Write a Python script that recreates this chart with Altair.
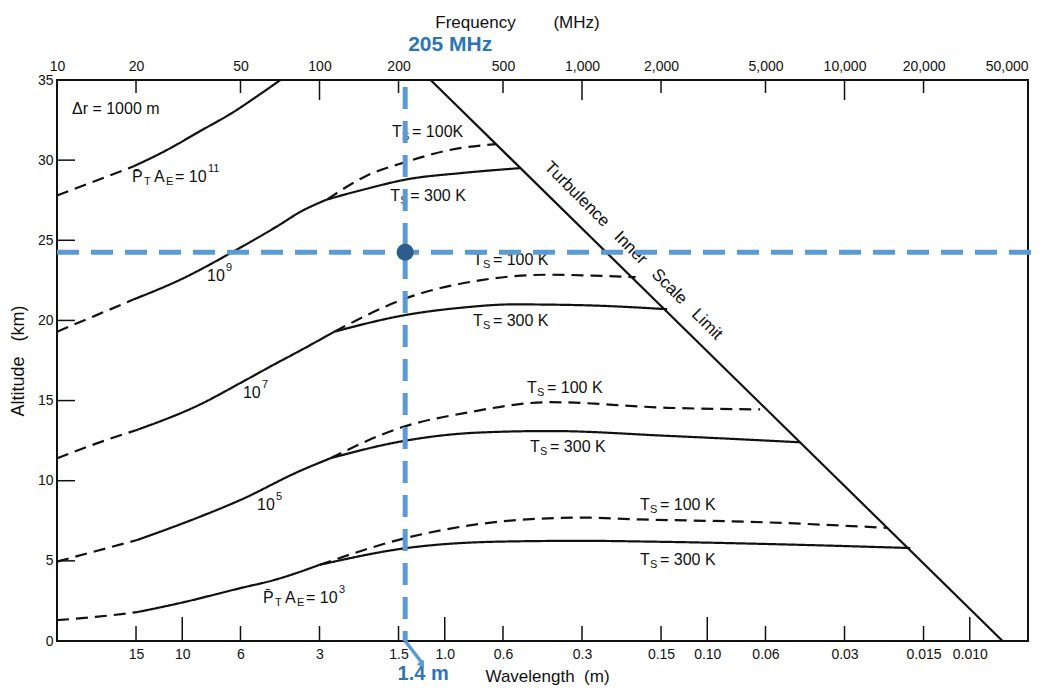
import altair as alt
import pandas as pd

FONT = "Liberation Sans"
BLUE = "#5b9bd5"
TEXT_BLUE = "#2e75b6"
DOT = "#2e5d8c"
INK = "#111111"
W, H = 971, 561

# ---------------- axes ----------------
freq_ticks = [10, 20, 50, 100, 200, 500, 1000, 2000, 5000, 10000, 20000, 50000]
wave_freqs = [20, 30, 50, 100, 200, 300, 500, 1000, 2000, 3000, 5000, 10000, 20000, 30000]
wave_labels = ["15", "10", "6", "3", "1.5", "1.0", "0.6", "0.3", "0.15", "0.10",
               "0.06", "0.03", "0.015", "0.010"]
alt_ticks = [0, 5, 10, 15, 20, 25, 30, 35]
top_long = [100, 1000, 10000]
top_short = [20, 50, 200, 500, 2000, 5000, 20000]
bot_long = [30, 300, 3000, 30000]
bot_short = [20, 50, 100, 200, 500, 1000, 2000, 5000, 10000, 20000]
left_ticks = [5, 10, 15, 20, 25, 30]

# ---------------- curves (frequency MHz, altitude km) ----------------
p11_dash_f = [10, 14, 19.5]
p11_dash_a = [27.8, 28.7, 29.6]
p11_f = [19.5, 26, 35, 47, 58, 71]
p11_a = [29.6, 30.6, 31.8, 33.0, 34.0, 35.0]

p9_dash_f = [10, 14, 19.5]
p9_dash_a = [19.3, 20.3, 21.3]
p9_f = [19.5, 30, 47, 71, 84, 107]
p9_a = [21.3, 22.6, 24.3, 26.0, 26.75, 27.55]
p9_300_f = [107, 150, 215, 350, 580]
p9_300_a = [27.55, 28.2, 28.8, 29.2, 29.5]
p9_100_f = [107, 150, 215, 306, 470]
p9_100_a = [27.55, 29.0, 29.9, 30.6, 31.0]

p7_dash_f = [10, 14, 20.4]
p7_dash_a = [11.4, 12.3, 13.2]
p7_f = [20.4, 35, 50, 68, 84, 114]
p7_a = [13.2, 14.75, 16.1, 17.3, 18.1, 19.3]
p7_300_f = [114, 215, 350, 545, 1000, 2110]
p7_300_a = [19.3, 20.35, 20.8, 21.0, 20.95, 20.7]
p7_100_f = [114, 215, 408, 736, 1100, 1600]
p7_100_a = [19.3, 21.4, 22.5, 22.85, 22.8, 22.7]

p5_dash_f = [10, 14, 20.2]
p5_dash_a = [4.95, 5.6, 6.3]
p5_f = [20.2, 35, 50, 84, 110]
p5_a = [6.3, 7.75, 8.8, 10.6, 11.4]
p5_300_f = [110, 203, 400, 755, 2110, 6760]
p5_300_a = [11.4, 12.44, 13.0, 13.1, 12.8, 12.4]
p5_100_f = [110, 203, 365, 755, 2110, 4770]
p5_100_a = [11.4, 13.3, 14.25, 14.9, 14.55, 14.45]

p3_dash_f = [10, 14, 20.2]
p3_dash_a = [1.3, 1.5, 1.8]
p3_f = [20.2, 30, 50, 67, 100]
p3_a = [1.8, 2.4, 3.3, 3.8, 4.75]
p3_300_f = [100, 215, 487, 1000, 1816, 6760, 17800]
p3_300_a = [4.75, 5.8, 6.2, 6.25, 6.2, 6.0, 5.8]
p3_100_f = [100, 215, 581, 1000, 1563, 5070, 14500]
p3_100_a = [4.75, 6.44, 7.56, 7.7, 7.6, 7.4, 7.06]

limit_f = [265, 40000]
limit_a = [35, 0]

# ---------------- labels ----------------
ts_f = [189, 186, 384, 384, 617, 634, 1663, 1663]
ts_a = [31.75, 27.75, 23.8, 19.94, 15.8, 12.1, 8.5, 5.06]
ts_rest = ["= 100K", "= 300 K", "= 100 K", "= 300 K", "= 100 K", "= 300 K", "= 100 K", "= 300 K"]

pa_f = [19.3, 60.9]
pa_a = [28.94, 2.69]
pa_exp = ["11", "3"]

ex_f = [37.3, 51.1, 57.8]
ex_a = [22.8, 15.5, 8.5]
ex_exp = ["9", "7", "5"]

mark_f = 212       # 205 MHz marker
mark_f2 = 246
mark_alt = 24.25

# ---------------- build tables ----------------
segments = [
    ("p11d", "dash", p11_dash_f, p11_dash_a), ("p11", "solid", p11_f, p11_a),
    ("p9d", "dash", p9_dash_f, p9_dash_a), ("p9", "solid", p9_f, p9_a),
    ("p9s", "solid", p9_300_f, p9_300_a), ("p9k", "dash", p9_100_f, p9_100_a),
    ("p7d", "dash", p7_dash_f, p7_dash_a), ("p7", "solid", p7_f, p7_a),
    ("p7s", "solid", p7_300_f, p7_300_a), ("p7k", "dash", p7_100_f, p7_100_a),
    ("p5d", "dash", p5_dash_f, p5_dash_a), ("p5", "solid", p5_f, p5_a),
    ("p5s", "solid", p5_300_f, p5_300_a), ("p5k", "dash", p5_100_f, p5_100_a),
    ("p3d", "dash", p3_dash_f, p3_dash_a), ("p3", "solid", p3_f, p3_a),
    ("p3s", "solid", p3_300_f, p3_300_a), ("p3k", "dash", p3_100_f, p3_100_a),
]
rows = []
for name, style, fs, as_ in segments:
    for i, (f, a) in enumerate(zip(fs, as_)):
        rows.append({"seg": name, "style": style, "f": f, "alt": a, "i": i})
curves = pd.DataFrame(rows)
limit = pd.DataFrame({"f": limit_f, "alt": limit_a})
ts_df = pd.DataFrame({"f": ts_f, "alt": ts_a, "rest": ts_rest})
pa_df = pd.DataFrame({"f": pa_f, "alt": pa_a, "exp": pa_exp})
ex_df = pd.DataFrame({"f": ex_f, "alt": ex_a, "exp": ex_exp})

x_scale = alt.Scale(type="log", domain=[10, 50000], nice=False)
y_scale = alt.Scale(domain=[0, 35], nice=False, zero=False)

y_axis = alt.Axis(values=alt_ticks, title="Altitude\u00a0\u00a0\u00a0(km)", ticks=False, domain=False,
                  grid=False, labelFontSize=14, labelPadding=4, titleFontSize=18,
                  titleFontWeight="normal", titlePadding=10, labelFont=FONT, titleFont=FONT,
                  labelColor=INK, titleColor=INK)
XN = alt.X("f:Q", scale=x_scale, axis=None)
Y = alt.Y("alt:Q", scale=y_scale, axis=y_axis)

top_axis = alt.Axis(orient="top", values=freq_ticks, format=",d", ticks=False, domain=False,
                    grid=False, labelFontSize=14, labelPadding=7, labelFlush=False,
                    labelOverlap=False, labelFont=FONT, titleFont=FONT, labelColor=INK,
                    titleColor=INK,
                    labelAlign={"condition": {"test": "datum.value >= 50000", "value": "right"},
                                "value": "center"},
                    title="Frequency" + "\u00a0" * 8 + "(MHz)", titleFontSize=17,
                    titleFontWeight="normal", titlePadding=28, titleX=460)
label_expr = "".join(f"datum.value == {f} ? '{l}' : " for f, l in zip(wave_freqs, wave_labels)) + "''"
bot_axis = alt.Axis(orient="bottom", values=wave_freqs, labelExpr=label_expr, ticks=False,
                    domain=False, grid=False, labelFontSize=14, labelPadding=6,
                    labelFlush=False, labelOverlap=False, labelFont=FONT, titleFont=FONT,
                    labelColor=INK, titleColor=INK,
                    title="Wavelength\u00a0\u00a0(m)", titleFontSize=17, titleFontWeight="normal",
                    titlePadding=7, titleX=490)

# ---------------- ticks (inward) ----------------
tick_kw = dict(color=INK, strokeWidth=1.5)
t_top_long = alt.Chart(pd.DataFrame({"f": top_long})).mark_rule(**tick_kw).encode(
    x=alt.X("f:Q", scale=x_scale, axis=top_axis), y=alt.value(0), y2=alt.value(20))
t_top_short = alt.Chart(pd.DataFrame({"f": top_short})).mark_rule(**tick_kw).encode(
    x=XN, y=alt.value(0), y2=alt.value(13))
t_bot_long = alt.Chart(pd.DataFrame({"f": bot_long})).mark_rule(**tick_kw).encode(
    x=alt.X("f:Q", scale=x_scale, axis=bot_axis), y=alt.value(H), y2=alt.value(H - 24))
t_bot_short = alt.Chart(pd.DataFrame({"f": bot_short})).mark_rule(**tick_kw).encode(
    x=XN, y=alt.value(H), y2=alt.value(H - 15))
t_left = alt.Chart(pd.DataFrame({"alt": left_ticks})).mark_rule(**tick_kw).encode(
    y=Y, x=alt.value(0), x2=alt.value(18))

# ---------------- curves ----------------
lines = alt.Chart(curves).mark_line(color=INK, strokeWidth=2.2, interpolate="monotone").encode(
    x=XN, y=Y, detail="seg:N", order="i:Q",
    strokeDash=alt.StrokeDash("style:N", scale=alt.Scale(domain=["solid", "dash"],
                                                          range=[[1, 0], [12, 7]]), legend=None))
limit_line = alt.Chart(limit).mark_line(color=INK, strokeWidth=2.2).encode(x=XN, y=Y)

# ---------------- text ----------------
def tx(df, dx=0, dy=0, size=16, text=None, field=None, align="left", **kw):
    mk = dict(dx=dx, dy=dy, fontSize=size, align=align, baseline="middle", font=FONT, color=INK)
    mk.update(kw)
    if text is not None:
        mk["text"] = text
    enc = dict(x=XN, y=Y)
    if field is not None:
        enc["text"] = alt.Text(field + ":N")
    return alt.Chart(df).mark_text(**mk).encode(**enc)

texts = [
    tx(ts_df, 0, text="T"), tx(ts_df, 10, 5, 11, text="S"), tx(ts_df, 20, field="rest"),
    tx(pa_df, 0, text="P\u0304"), tx(pa_df, 12, 5, 11, text="T"), tx(pa_df, 22, text="A"),
    tx(pa_df, 34, 5, 11, text="E"), tx(pa_df, 43, text="= 10"),
    tx(pa_df, 76, -8, 11, field="exp"),
    tx(ex_df, 0, text="10"), tx(ex_df, 19, -8, 11, field="exp"),
    tx(pd.DataFrame({"f": [11.4], "alt": [33.2]}), 0, text="\u0394r = 1000 m"),
    tx(pd.DataFrame({"f": [1570], "alt": [24.34]}), 0, 0, 17,
       text="Turbulence" + "\u00a0" * 3 + "Inner" + "\u00a0" * 3 + "Scale" + "\u00a0" * 3 + "Limit",
       align="center", angle=45),
]

# ---------------- blue annotation ----------------
mk_df = pd.DataFrame({"f": [mark_f], "f2": [mark_f2], "alt": [mark_alt]})
h_line = alt.Chart(mk_df).mark_rule(color=BLUE, strokeWidth=5, strokeDash=[22, 12]).encode(
    y=Y, x=alt.value(0), x2=alt.value(W + 12))
v_line = alt.Chart(mk_df).mark_rule(color=BLUE, strokeWidth=5, strokeDash=[22, 12]).encode(
    x=XN, y=alt.value(7), y2=alt.value(H))
arrow = alt.Chart(mk_df).mark_rule(color=BLUE, strokeWidth=3.5).encode(
    x=XN, x2="f2:Q", y=alt.value(H), y2=alt.value(H + 22))
arrow_head = alt.Chart(mk_df).mark_point(shape="triangle-up", filled=True, size=70, angle=148,
                                         color=BLUE, opacity=1).encode(
    x=alt.X("f2:Q", scale=x_scale, axis=None), y=alt.value(H + 24))
dot = alt.Chart(mk_df).mark_point(filled=True, size=290, color=DOT, opacity=1).encode(x=XN, y=Y)
lbl_mhz = alt.Chart(mk_df).mark_text(text="205 MHz", dx=3, align="left", baseline="middle",
                                     fontSize=21, fontWeight="bold", color=TEXT_BLUE,
                                     font=FONT).encode(x=XN, y=alt.value(-35))
lbl_m = alt.Chart(mk_df).mark_text(text="1.4 m", dx=18, align="center", baseline="middle",
                                   fontSize=20, fontWeight="bold", color=TEXT_BLUE,
                                   font=FONT).encode(x=XN, y=alt.value(H + 33))

chart = alt.layer(
    t_top_long, t_top_short, t_bot_long, t_bot_short, t_left,
    lines, limit_line, *texts,
    h_line, v_line, arrow, lbl_m, arrow_head, lbl_mhz, dot,
).resolve_axis(x="independent").properties(
    width=W, height=H,
    padding={"left": 49, "top": 72, "right": 16, "bottom": 49},
    autosize=alt.AutoSizeParams(type="none"),
    background="white",
).configure_view(stroke=INK, strokeWidth=2)

chart.save("out.html", embed_options={"renderer": "svg", "actions": False})
